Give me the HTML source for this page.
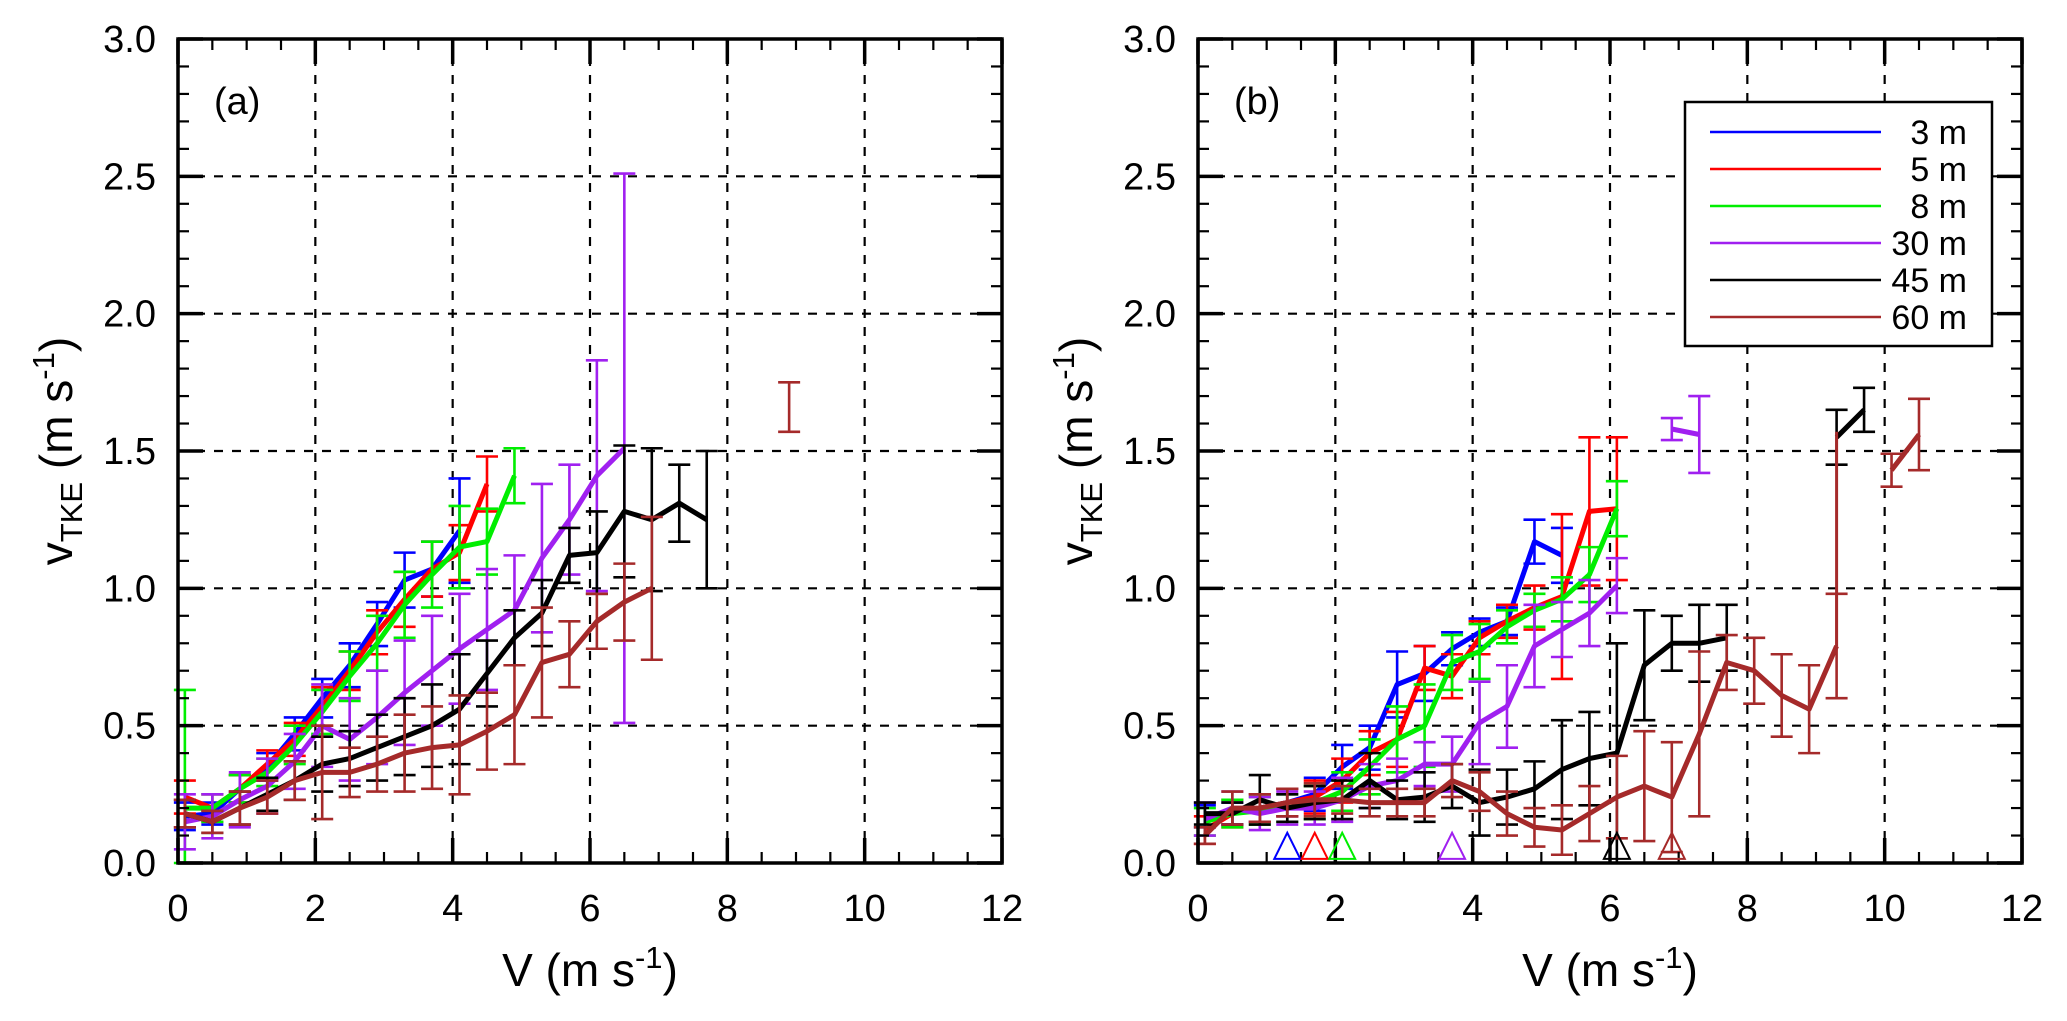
<!DOCTYPE html>
<html><head><meta charset="utf-8"><style>
html,body{margin:0;padding:0;background:#fff;}
svg{display:block;font-family:"Liberation Sans",Arial,sans-serif;}
</style></head><body>
<svg id="chart" width="2067" height="1021" viewBox="0 0 2067 1021" xmlns="http://www.w3.org/2000/svg"></svg>
<script>
const xTicks=[0,2,4,6,8,10,12];
const yTicks=[0,0.5,1.0,1.5,2.0,2.5,3.0];
const seriesNames=['3 m','5 m','8 m','30 m','45 m','60 m'];
const seriesColors=['#0000ff','#ff0000','#00ee00','#a020f0','#000000','#a52a2a'];
const binsA=[0.1,0.5,0.9,1.3,1.7,2.1,2.5,2.9,3.3,3.7,4.1,4.5,4.9,5.3,5.7,6.1,6.5,6.9,7.3,7.7,8.1,8.5,8.9];
const binsB=[0.1,0.5,0.9,1.3,1.7,2.1,2.5,2.9,3.3,3.7,4.1,4.5,4.9,5.3,5.7,6.1,6.5,6.9,7.3,7.7,8.1,8.5,8.9,9.3,9.7,10.1,10.5];
const a3=[0.17,0.18,0.27,0.35,0.47,0.6,0.72,0.87,1.03,1.07,1.21];
const a5=[0.24,0.2,0.27,0.36,0.45,0.57,0.7,0.84,0.96,1.07,1.13,1.38];
const a8=[0.2,0.2,0.27,0.33,0.43,0.55,0.68,0.8,0.94,1.05,1.15,1.17,1.41];
const a30=[0.15,0.17,0.23,0.28,0.37,0.5,0.45,0.53,0.62,0.7,0.78,0.85,0.92,1.11,1.25,1.41,1.51];
const a45=[0.18,0.15,0.2,0.25,0.3,0.36,0.38,0.42,0.46,0.5,0.56,0.69,0.82,0.91,1.12,1.13,1.28,1.25,1.31,1.25];
const a60=[0.18,0.15,0.2,0.24,0.3,0.33,0.33,0.36,0.4,0.42,0.43,0.48,0.54,0.73,0.76,0.88,0.95,1.0,null,null,null,null,1.66];
const ea3=[0.05,0.04,0.05,0.05,0.06,0.07,0.08,0.08,0.1,0.1,0.19];
const ea5=[0.06,0.05,0.05,0.05,0.06,0.07,0.07,0.08,0.1,0.1,0.1,0.1];
const ea8=[0.43,0.05,0.05,0.05,0.07,0.08,0.09,0.1,0.12,0.12,0.15,0.12,0.1];
const ea30=[0.1,0.08,0.1,0.1,0.1,0.15,0.15,0.17,0.19,0.2,0.2,0.22,0.2,0.27,0.2,0.42,1.0];
const ea45=[0.05,0.04,0.06,0.06,0.07,0.1,0.1,0.12,0.14,0.15,0.2,0.12,0.1,0.12,0.1,0.15,0.24,0.26,0.14,0.25];
const ea60=[0.05,0.04,0.06,0.06,0.07,0.17,0.09,0.1,0.14,0.15,0.18,0.14,0.18,0.2,0.12,0.1,0.14,0.26,null,null,null,null,0.09];
const b3=[0.17,0.18,0.2,0.22,0.25,0.35,0.42,0.65,0.69,0.78,0.84,0.88,1.17,1.12];
const b5=[0.12,0.18,0.2,0.22,0.24,0.3,0.4,0.45,0.71,0.68,0.82,0.88,0.93,0.97,1.28,1.29];
const b8=[0.15,0.18,0.19,0.2,0.22,0.26,0.35,0.45,0.5,0.73,0.77,0.86,0.92,0.96,1.05,1.29];
const b30=[0.16,0.2,0.18,0.2,0.2,0.23,0.28,0.3,0.36,0.36,0.51,0.57,0.79,0.85,0.91,1.01,null,1.58,1.56];
const b45=[0.18,0.18,0.23,0.2,0.22,0.23,0.3,0.23,0.24,0.28,0.22,0.24,0.27,0.34,0.38,0.4,0.72,0.8,0.8,0.82,null,null,null,1.55,1.65];
const b60=[0.1,0.2,0.2,0.22,0.23,0.23,0.22,0.22,0.22,0.3,0.26,0.18,0.13,0.12,0.18,0.24,0.28,0.24,0.47,0.73,0.7,0.61,0.56,0.79,null,1.43,1.56];
const eb3=[0.04,0.04,0.05,0.05,0.06,0.08,0.08,0.12,0.1,0.06,0.05,0.05,0.08,0.1];
const eb5=[0.05,0.05,0.05,0.05,0.06,0.08,0.08,0.1,0.08,0.08,0.06,0.06,0.08,0.3,0.27,0.26];
const eb8=[0.05,0.05,0.05,0.05,0.06,0.07,0.1,0.12,0.15,0.1,0.1,0.06,0.06,0.08,0.1,0.1];
const eb30=[0.06,0.06,0.06,0.06,0.06,0.08,0.08,0.08,0.08,0.1,0.15,0.15,0.15,0.1,0.12,0.1,null,0.04,0.14];
const eb45=[0.04,0.04,0.09,0.05,0.06,0.07,0.1,0.07,0.09,0.08,0.12,0.1,0.1,0.18,0.17,0.4,0.2,0.1,0.14,0.12,null,null,null,0.1,0.08];
const eb60=[0.03,0.06,0.05,0.05,0.06,0.05,0.05,0.05,0.05,0.06,0.07,0.08,0.07,0.09,0.1,0.15,0.2,0.2,0.3,0.1,0.12,0.15,0.16,0.19,null,0.06,0.13];
const triX=[1.3,1.7,2.1,3.7,6.1,6.9];
// brown jump segment in (b) at V=9.3
const jumpB=[9.3,0.79,1.57];

const NS='http://www.w3.org/2000/svg';
const svg=document.getElementById('chart');
function mk(tag,attrs,parent){const e=document.createElementNS(NS,tag);for(const k in attrs)e.setAttribute(k,attrs[k]);(parent||svg).appendChild(e);return e;}

function panel(p){
  const g=mk('g',{});
  
  
  const X=v=>p.x0+(v/12)*(p.x1-p.x0);
  const Y=v=>p.y0-(v/3)*(p.y0-p.y1);
  const grid=mk('g',{},g);
  
  
  xTicks.slice(1,-1).forEach(t=>mk('line',{x1:X(t),x2:X(t),y1:p.y1,y2:p.y0,stroke:'#000','stroke-width':2.2,'stroke-dasharray':'9,9'},grid));
  yTicks.slice(1,-1).forEach(t=>mk('line',{x1:p.x0,x2:p.x1,y1:Y(t),y2:Y(t),stroke:'#000','stroke-width':2.2,'stroke-dasharray':'9,9'},grid));
  p.vals.forEach((vals,si)=>{
    const sg=mk('g',{},g);
    
    
    const c=seriesColors[si];
    let d='',pen=false;
    vals.forEach((v,i)=>{
      if(v===null){pen=false;return;}
      d+=(pen?'L':'M')+X(p.bins[i]).toFixed(1)+','+Y(v).toFixed(1);pen=true;
      const e=p.errs[si][i];
      if(e!=null){
        const lo=Math.max(0,v-e),hi=Math.min(3,v+e),x=X(p.bins[i]);
        const eg=mk('path',{d:`M${x},${Y(lo)}L${x},${Y(hi)}M${x-11},${Y(lo)}L${x+11},${Y(lo)}M${x-11},${Y(hi)}L${x+11},${Y(hi)}`,stroke:c,'stroke-width':2.6,fill:'none'},sg);
        
        
      }
    });
    const ln=mk('path',{d:d,stroke:c,'stroke-width':5,fill:'none','stroke-linejoin':'round'},sg);
    
    
    if(p.jump&&si===5){
      const jl=mk('line',{x1:X(p.jump[0]),x2:X(p.jump[0]),y1:Y(p.jump[1]),y2:Y(p.jump[2]),stroke:c,'stroke-width':3},sg);
      
      
    }
  });
  const ax=mk('g',{},g);
  
  
  mk('rect',{x:p.x0,y:p.y1,width:p.x1-p.x0,height:p.y0-p.y1,fill:'none',stroke:'#000','stroke-width':3.5},ax);
  for(let v=0;v<=12.001;v+=0.5){const maj=Math.abs(v%2)<1e-6;const L=maj?25:11;
    mk('line',{x1:X(v),x2:X(v),y1:p.y0,y2:p.y0-L,stroke:'#000','stroke-width':maj?3.5:2.2},ax);
    mk('line',{x1:X(v),x2:X(v),y1:p.y1,y2:p.y1+L,stroke:'#000','stroke-width':maj?3.5:2.2},ax);}
  for(let k=0;k<=30;k++){const v=k/10;const maj=k%5===0;const L=maj?25:11;
    mk('line',{x1:p.x0,x2:p.x0+L,y1:Y(v),y2:Y(v),stroke:'#000','stroke-width':maj?3.5:2.2},ax);
    mk('line',{x1:p.x1,x2:p.x1-L,y1:Y(v),y2:Y(v),stroke:'#000','stroke-width':maj?3.5:2.2},ax);}
  xTicks.forEach(t=>{const tx=mk('text',{x:X(t),y:p.y0+58,'text-anchor':'middle','font-size':38},ax);tx.textContent=t;
    });
  yTicks.forEach(t=>{const tx=mk('text',{x:p.x0-22,y:Y(t)+13,'text-anchor':'end','font-size':38},ax);tx.textContent=t.toFixed(1);
    });
  const xt=mk('text',{x:(p.x0+p.x1)/2,y:p.y0+123,'text-anchor':'middle','font-size':46},g);
  xt.innerHTML='V (m s<tspan font-size="31" dy="-18">-1</tspan><tspan dy="18">)</tspan>';
  
  const yt=mk('text',{x:0,y:0,'text-anchor':'middle','font-size':46,transform:`translate(${p.x0-106},${(p.y0+p.y1)/2}) rotate(-90)`},g);
  yt.innerHTML='v<tspan font-size="31" dy="10">TKE</tspan><tspan dy="-10"> (m s</tspan><tspan font-size="31" dy="-18">-1</tspan><tspan dy="18">)</tspan>';
  
  const pl=mk('text',{x:p.x0+36,y:p.y1+75,'font-size':38},g);pl.textContent=p.label;
  
  return {X,Y,g};
}

panel({name:'panel-a',label:'(a)',x0:178,x1:1002,y0:863,y1:39,bins:binsA,vals:[a3,a5,a8,a30,a45,a60],errs:[ea3,ea5,ea8,ea30,ea45,ea60]});
const pb=panel({name:'panel-b',label:'(b)',x0:1198,x1:2022,y0:863,y1:39,bins:binsB,vals:[b3,b5,b8,b30,b45,b60],errs:[eb3,eb5,eb8,eb30,eb45,eb60],jump:jumpB});

triX.forEach((t,i)=>{
  const x=pb.X(t),yb=pb.Y(0.015),yt=pb.Y(0.11);
  const tr=mk('path',{d:`M${x-13},${yb}L${x+13},${yb}L${x},${yt}Z`,fill:'none',stroke:seriesColors[i],'stroke-width':2},pb.g);
  
  
});

const lg=mk('g',{});


mk('rect',{x:1685,y:102,width:307,height:244,fill:'#fff',stroke:'#000','stroke-width':2.5},lg);
seriesNames.forEach((n,i)=>{
  const y=132+i*37;
  const le=mk('g',{},lg);
  
  
  mk('line',{x1:1710,x2:1881,y1:y,y2:y,stroke:seriesColors[i],'stroke-width':2.5},le);
  const t=mk('text',{x:1967,y:y+12,'text-anchor':'end','font-size':34},le);t.textContent=n;
});
</script>
</body></html>
